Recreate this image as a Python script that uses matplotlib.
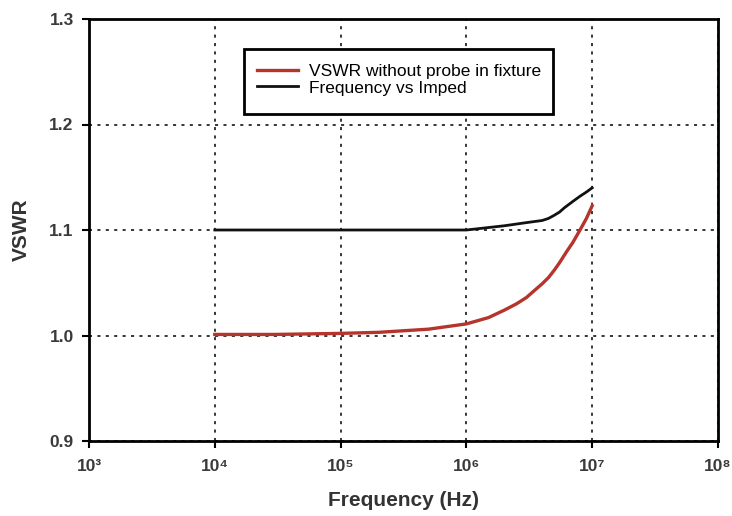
import numpy as np
import matplotlib
matplotlib.use("Agg")
import matplotlib.pyplot as plt
from matplotlib.patches import Rectangle
from matplotlib.ticker import FixedLocator, NullLocator

plt.rcParams["font.family"] = ["Liberation Sans", "DejaVu Sans"]

# values
red_freq = [1e4, 3e4, 1e5, 2e5, 5e5, 1e6, 1.5e6, 2e6, 2.5e6, 3e6, 3.5e6, 4e6,
            4.5e6, 5e6, 5.5e6, 6.3e6, 7e6, 8e6, 9e6, 1e7]
red_vswr = [1.001, 1.001, 1.002, 1.003, 1.006, 1.011, 1.017, 1.024, 1.030,
            1.036, 1.043, 1.049, 1.055, 1.062, 1.069, 1.080, 1.088, 1.100,
            1.111, 1.123]
black_freq = [1e4, 1e5, 1e6, 2e6, 3e6, 4e6, 4.5e6, 5e6, 5.5e6, 6e6, 7e6,
              8e6, 9e6, 1e7]
black_vswr = [1.100, 1.100, 1.100, 1.104, 1.107, 1.109, 1.111, 1.114, 1.117,
              1.121, 1.127, 1.132, 1.136, 1.140]

xticks = [1e3, 1e4, 1e5, 1e6, 1e7, 1e8]
xtick_labels = ["10³", "10⁴", "10⁵", "10⁶", "10⁷", "10⁸"]
yticks = [0.9, 1.0, 1.1, 1.2, 1.3]
ytick_labels = ["0.9", "1.0", "1.1", "1.2", "1.3"]


def main():
    W, H = 732, 516
    fig = plt.figure(figsize=(W / 100, H / 100), dpi=100)
    ax = fig.add_axes([89 / W, 1 - 441 / H, (718 - 89) / W, (441 - 19) / H])

    ax.plot(red_freq, red_vswr, color="#b5352d", lw=2.4,
            label="VSWR without probe in fixture")
    ax.plot(black_freq, black_vswr, color="#111111", lw=2.0,
            label="Frequency vs Imped")

    ax.set_xscale("log")
    ax.set_xlim(1e3, 1e8)
    ax.set_ylim(0.9, 1.3)
    ax.xaxis.set_major_locator(FixedLocator(xticks))
    ax.xaxis.set_minor_locator(NullLocator())
    ax.set_xticklabels(xtick_labels)
    ax.set_yticks(yticks)
    ax.set_yticklabels(ytick_labels)

    ax.grid(True, color="black", linestyle=(0, (2, 3.5)), lw=1.1)
    ax.tick_params(direction="out", length=5, width=1.5, labelsize=12.5,
                   labelcolor="#3a3a3a")
    ax.tick_params(axis="y", pad=6)
    ax.tick_params(axis="x", pad=8)
    for lbl in ax.get_xticklabels() + ax.get_yticklabels():
        lbl.set_fontweight("bold")
    for s in ax.spines.values():
        s.set_linewidth(2)

    ax.set_xlabel("Frequency (Hz)", fontsize=15, fontweight="bold",
                  color="#333333", labelpad=12)
    ax.set_ylabel("VSWR", fontsize=15, fontweight="bold",
                  color="#333333", labelpad=13)

    # legend box drawn separately so it can be taller than the text needs
    box = Rectangle((0.2464, 0.7749), 0.4913, 0.1540, transform=ax.transAxes,
                    facecolor="white", edgecolor="black", lw=2, zorder=4)
    ax.add_patch(box)
    ax.legend(loc="center left", bbox_to_anchor=(0.267, 0.8566),
              fontsize=12.5, frameon=False, borderpad=0, borderaxespad=0,
              handlelength=2.35, handletextpad=0.63, labelspacing=0.1)

    fig.savefig("out.png", dpi=100)


if __name__ == "__main__":
    main()
